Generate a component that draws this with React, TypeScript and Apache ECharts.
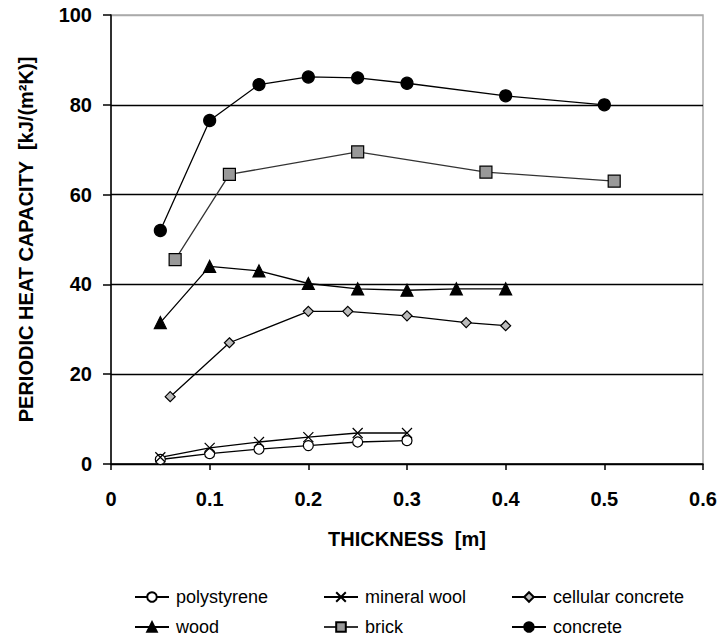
import React, { useEffect, useRef } from "react";
import * as echarts from "echarts";

const polystyrene: [number, number][] = [[0.05, 1], [0.1, 2.3], [0.15, 3.3], [0.2, 4.1], [0.25, 4.9], [0.3, 5.2]];
const mineralWool: [number, number][] = [[0.05, 1.5], [0.1, 3.6], [0.15, 4.9], [0.2, 6], [0.25, 6.9], [0.3, 6.9]];
const cellularConcrete: [number, number][] = [[0.06, 15], [0.12, 27], [0.2, 34], [0.24, 34], [0.3, 33], [0.36, 31.5], [0.4, 30.8]];
const wood: [number, number][] = [[0.05, 31.5], [0.1, 44], [0.15, 43], [0.2, 40.2], [0.25, 39], [0.3, 38.7], [0.35, 39], [0.4, 39]];
const brick: [number, number][] = [[0.065, 45.5], [0.12, 64.5], [0.25, 69.5], [0.38, 65], [0.51, 63]];
const concrete: [number, number][] = [[0.05, 52], [0.1, 76.5], [0.15, 84.5], [0.2, 86.2], [0.25, 86], [0.3, 84.8], [0.4, 82], [0.5, 80]];

const seriesNames = ["polystyrene", "mineral wool", "cellular concrete", "wood", "brick", "concrete"];
const xTicks = [0, 0.1, 0.2, 0.3, 0.4, 0.5, 0.6];

const FONT = "'Liberation Sans', Arial, sans-serif";
const XPATH = "path://M0,0L10,10M10,0L0,10";

export default function App() {
  const ref = useRef<HTMLDivElement>(null);
  useEffect(() => {
    if (!ref.current) return;
    const chart = echarts.init(ref.current, null, { renderer: "svg" });
    const mk = (name: string, data: [number, number][], symbol: string, size: number, fill: string, border: string, lineColor = "#000") => ({
      name,
      type: "line",
      data,
      symbol,
      symbolSize: size,
      lineStyle: { color: lineColor, width: 1.3 },
      itemStyle: { color: fill, borderColor: border, borderWidth: 1.2 },
      emphasis: { disabled: true },
      z: 3,
    });
    const legendPos = [
      { left: 129, top: 583 },
      { left: 318, top: 583 },
      { left: 506, top: 583 },
      { left: 129, top: 613 },
      { left: 318, top: 613 },
      { left: 506, top: 613 },
    ];
    chart.setOption({
      animation: false,
      grid: { left: 111, right: 20, top: 15, bottom: 177, show: true, borderColor: "#aaa", borderWidth: 1.5, backgroundColor: "transparent" },
      legend: seriesNames.map((n, i) => ({
        data: [n],
        left: legendPos[i].left,
        top: legendPos[i].top,
        itemWidth: 34,
        itemHeight: 12,
        itemGap: 4,
        textStyle: { fontFamily: FONT, fontSize: 18, color: "#000", padding: [0, 0, 0, 2] },
        selectedMode: false,
      })),
      xAxis: {
        type: "value",
        min: 0,
        max: 0.6,
        interval: 0.1,
        name: "THICKNESS  [m]",
        nameLocation: "middle",
        nameGap: 65,
        nameTextStyle: { fontFamily: FONT, fontWeight: "bold", fontSize: 20, color: "#000" },
        axisLine: { show: true, lineStyle: { color: "#000", width: 1.5 } },
        axisTick: { show: true, length: 6, lineStyle: { color: "#000", width: 1.5 } },
        splitLine: { show: false },
        axisLabel: {
          margin: 25,
          fontFamily: FONT,
          fontWeight: "bold",
          fontSize: 20,
          color: "#000",
          formatter: (v: number) => {
            const t = xTicks.find((x) => Math.abs(x - v) < 1e-6);
            return t === undefined ? "" : String(t);
          },
        },
      },
      yAxis: {
        type: "value",
        min: 0,
        max: 100,
        interval: 20,
        name: "PERIODIC HEAT CAPACITY  [kJ/(m²K)]",
        nameLocation: "middle",
        nameGap: 75,
        nameTextStyle: { fontFamily: FONT, fontWeight: "bold", fontSize: 20, color: "#000" },
        axisLine: { show: true, lineStyle: { color: "#000", width: 1.5 } },
        axisTick: { show: true, length: 8, lineStyle: { color: "#000", width: 1.5 } },
        splitLine: { show: true, lineStyle: { color: ["#000", "#000", "#000", "#000", "#000", "#aaa"], width: 1.3 } },
        axisLabel: { margin: 19, fontFamily: FONT, fontWeight: "bold", fontSize: 20, color: "#000" },
      },
      series: [
        mk("polystyrene", polystyrene, "circle", 10, "#fff", "#000"),
        mk("mineral wool", mineralWool, XPATH, 10, "#000", "#000"),
        mk("cellular concrete", cellularConcrete, "diamond", 10, "#bbb", "#000"),
        mk("wood", wood, "triangle", 12, "#000", "#000"),
        mk("brick", brick, "rect", 12, "#999", "#000", "#333"),
        mk("concrete", concrete, "circle", 12, "#000", "#000"),
      ],
    });
    return () => chart.dispose();
  }, []);
  return <div ref={ref} style={{ width: 723, height: 641, position: "absolute", left: 0, top: 0 }} />;
}
